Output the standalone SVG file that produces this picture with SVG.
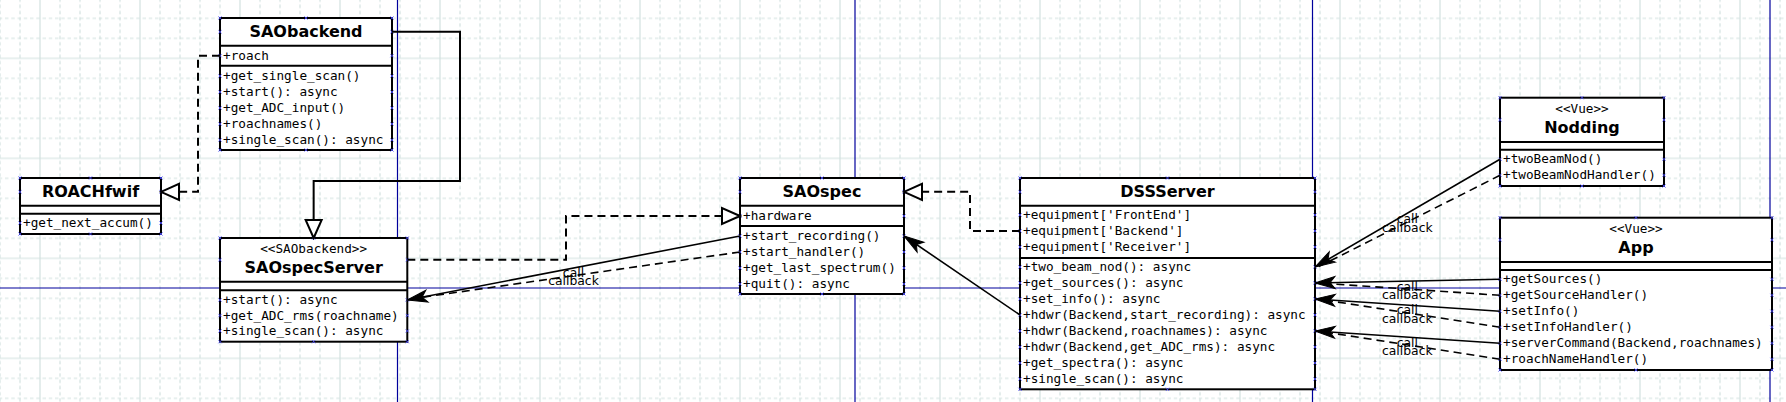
<svg xmlns="http://www.w3.org/2000/svg" width="1786" height="402" viewBox="0 0 1786 402">
<style>
.box{fill:#fff;stroke:#000;stroke-width:2}
.sep{stroke:#000;stroke-width:2}
.title{font-family:"DejaVu Sans",sans-serif;font-weight:bold;font-size:16px;text-anchor:middle;fill:#000}
.stereo{font-family:"DejaVu Sans Mono",monospace;font-size:12.7px;text-anchor:middle;fill:#000}
.mem{font-family:"DejaVu Sans Mono",monospace;font-size:12.7px;fill:#000}
.lbl{font-family:"DejaVu Sans",sans-serif;font-size:12.4px;text-anchor:middle;fill:#000}
.cps{fill:none;stroke:none;marker-start:url(#cp);marker-mid:url(#cp);marker-end:url(#cp)}
.real{fill:none;stroke:#000;stroke-width:2;stroke-dasharray:8 5;marker-end:url(#hollow)}
.gen{fill:none;stroke:#000;stroke-width:2;marker-end:url(#hollow)}
.call{fill:none;stroke:#000;stroke-width:1.6;marker-end:url(#filled)}
.cb{fill:none;stroke:#000;stroke-width:1.6;stroke-dasharray:8 5}
.page{stroke:#00009c;stroke-width:1.2}
</style>
<defs>
<pattern id="grid" patternUnits="userSpaceOnUse" x="30" y="48.33" width="100" height="100">
<path d="M10 0V100M0 10H100" stroke="#d2e1df" stroke-width="1.2" fill="none"/>
<path d="M30 0V100M50 0V100M70 0V100M90 0V100M0 30H100M0 50H100M0 70H100M0 90H100" stroke="#d2e1df" stroke-width="1.2" stroke-dasharray="3.5 2.75" fill="none"/>
</pattern>
<marker id="cp" markerUnits="userSpaceOnUse" viewBox="-3 -3 6 6" markerWidth="6" markerHeight="6" refX="0" refY="0" orient="0">
<path d="M-1.6,-1.6L1.6,1.6M-1.6,1.6L1.6,-1.6" stroke="#4848ff" stroke-width="0.8" fill="none"/>
</marker>
<marker id="hollow" markerUnits="userSpaceOnUse" viewBox="-22 -11 24 22" markerWidth="24" markerHeight="22" refX="0" refY="0" orient="auto">
<path d="M0,0L-18,-8L-18,8Z" fill="#fff" stroke="#000" stroke-width="2"/>
</marker>
<marker id="filled" markerUnits="userSpaceOnUse" viewBox="-22 -8 24 16" markerWidth="24" markerHeight="16" refX="0" refY="0" orient="auto">
<path d="M0,0L-20,-6L-15,0L-20,6Z" fill="#000" stroke="#000" stroke-width="1"/>
</marker>
</defs>
<rect x="0" y="0" width="1786" height="402" fill="#fff"/>
<rect x="0" y="0" width="1786" height="402" fill="url(#grid)"/>
<g id="page-breaks">
<line class="page" x1="397.5" y1="0" x2="397.5" y2="402"/>
<line class="page" x1="855" y1="0" x2="855" y2="402"/>
<line class="page" x1="1312.5" y1="0" x2="1312.5" y2="402"/>
<line class="page" x1="1770" y1="0" x2="1770" y2="402"/>
<line class="page" x1="0" y1="288" x2="1786" y2="288"/>
</g>

<g id="SAObackend">
<rect class="box" x="220" y="18" width="172" height="132"/>
<line class="sep" x1="220" y1="45.7" x2="392" y2="45.7"/>
<line class="sep" x1="220" y1="65.7" x2="392" y2="65.7"/>
<text class="title" x="306" y="37">SAObackend</text>
<text class="mem" x="223" y="59.5">+roach</text>
<text class="mem" x="223" y="80">+get_single_scan()</text>
<text class="mem" x="223" y="96">+start(): async</text>
<text class="mem" x="223" y="112">+get_ADC_input()</text>
<text class="mem" x="223" y="128">+roachnames()</text>
<text class="mem" x="223" y="144">+single_scan(): async</text>
<path class="cps" d="M220 18L220 31.85L220 55.7L220 76L220 92L220 108L220 124L220 140L220 150L306 150L392 150L392 140L392 124L392 108L392 92L392 76L392 55.7L392 31.85L392 18L306 18"/>
</g>

<g id="ROACHfwif">
<rect class="box" x="20" y="178" width="141" height="56"/>
<line class="sep" x1="20" y1="205.7" x2="161" y2="205.7"/>
<line class="sep" x1="20" y1="213.7" x2="161" y2="213.7"/>
<text class="title" x="90.5" y="197">ROACHfwif</text>
<text class="mem" x="23" y="227">+get_next_accum()</text>
<path class="cps" d="M20 178L20 191.85L20 223L20 234L90.5 234L161 234L161 223L161 191.85L161 178L90.5 178"/>
</g>

<g id="SAOspecServer">
<rect class="box" x="220" y="238" width="187.3" height="103.7"/>
<line class="sep" x1="220" y1="281.7" x2="407.3" y2="281.7"/>
<line class="sep" x1="220" y1="290.3" x2="407.3" y2="290.3"/>
<text class="stereo" x="313.65" y="253">&lt;&lt;SAObackend&gt;&gt;</text>
<text class="title" x="313.65" y="273.3">SAOspecServer</text>
<text class="mem" x="223" y="304">+start(): async</text>
<text class="mem" x="223" y="319.5">+get_ADC_rms(roachname)</text>
<text class="mem" x="223" y="335">+single_scan(): async</text>
<path class="cps" d="M220 238L220 259.85L220 300L220 315.5L220 331L220 341.7L313.65 341.7L407.3 341.7L407.3 331L407.3 315.5L407.3 300L407.3 259.85L407.3 238L313.65 238"/>
</g>

<g id="SAOspec">
<rect class="box" x="740" y="178" width="164" height="116"/>
<line class="sep" x1="740" y1="205.7" x2="904" y2="205.7"/>
<line class="sep" x1="740" y1="226" x2="904" y2="226"/>
<text class="title" x="822" y="197">SAOspec</text>
<text class="mem" x="743" y="220">+hardware</text>
<text class="mem" x="743" y="240">+start_recording()</text>
<text class="mem" x="743" y="256">+start_handler()</text>
<text class="mem" x="743" y="272">+get_last_spectrum()</text>
<text class="mem" x="743" y="288">+quit(): async</text>
<path class="cps" d="M740 178L740 191.85L740 216L740 236L740 252L740 268L740 284L740 294L822 294L904 294L904 284L904 268L904 252L904 236L904 216L904 191.85L904 178L822 178"/>
</g>

<g id="DSSServer">
<rect class="box" x="1020" y="178" width="295" height="211.3"/>
<line class="sep" x1="1020" y1="205.7" x2="1315" y2="205.7"/>
<line class="sep" x1="1020" y1="258" x2="1315" y2="258"/>
<text class="title" x="1167.5" y="197">DSSServer</text>
<text class="mem" x="1023" y="219">+equipment['FrontEnd']</text>
<text class="mem" x="1023" y="235">+equipment['Backend']</text>
<text class="mem" x="1023" y="251">+equipment['Receiver']</text>
<text class="mem" x="1023" y="271">+two_beam_nod(): async</text>
<text class="mem" x="1023" y="287">+get_sources(): async</text>
<text class="mem" x="1023" y="303">+set_info(): async</text>
<text class="mem" x="1023" y="319">+hdwr(Backend,start_recording): async</text>
<text class="mem" x="1023" y="335">+hdwr(Backend,roachnames): async</text>
<text class="mem" x="1023" y="351">+hdwr(Backend,get_ADC_rms): async</text>
<text class="mem" x="1023" y="367">+get_spectra(): async</text>
<text class="mem" x="1023" y="383">+single_scan(): async</text>
<path class="cps" d="M1020 178L1020 191.85L1020 215L1020 231L1020 247L1020 267L1020 283L1020 299L1020 315L1020 331L1020 347L1020 363L1020 379L1020 389.3L1167.5 389.3L1315 389.3L1315 379L1315 363L1315 347L1315 331L1315 315L1315 299L1315 283L1315 267L1315 247L1315 231L1315 215L1315 191.85L1315 178L1167.5 178"/>
</g>

<g id="Nodding">
<rect class="box" x="1500" y="97.7" width="164" height="88.3"/>
<line class="sep" x1="1500" y1="142" x2="1664" y2="142"/>
<line class="sep" x1="1500" y1="149.7" x2="1664" y2="149.7"/>
<text class="stereo" x="1582" y="113.3">&lt;&lt;Vue&gt;&gt;</text>
<text class="title" x="1582" y="132.7">Nodding</text>
<text class="mem" x="1503" y="163.3">+twoBeamNod()</text>
<text class="mem" x="1503" y="179.3">+twoBeamNodHandler()</text>
<path class="cps" d="M1500 97.7L1500 119.85L1500 159.3L1500 175.3L1500 186L1582 186L1664 186L1664 175.3L1664 159.3L1664 119.85L1664 97.7L1582 97.7"/>
</g>

<g id="App">
<rect class="box" x="1500" y="217.7" width="272" height="152.3"/>
<line class="sep" x1="1500" y1="262" x2="1772" y2="262"/>
<line class="sep" x1="1500" y1="270" x2="1772" y2="270"/>
<text class="stereo" x="1636" y="233.3">&lt;&lt;Vue&gt;&gt;</text>
<text class="title" x="1636" y="252.7">App</text>
<text class="mem" x="1503" y="283.3">+getSources()</text>
<text class="mem" x="1503" y="299.3">+getSourceHandler()</text>
<text class="mem" x="1503" y="315.3">+setInfo()</text>
<text class="mem" x="1503" y="331.3">+setInfoHandler()</text>
<text class="mem" x="1503" y="347.3">+serverCommand(Backend,roachnames)</text>
<text class="mem" x="1503" y="363.3">+roachNameHandler()</text>
<path class="cps" d="M1500 217.7L1500 239.85L1500 279.3L1500 295.3L1500 311.3L1500 327.3L1500 343.3L1500 359.3L1500 370L1636 370L1772 370L1772 359.3L1772 343.3L1772 327.3L1772 311.3L1772 295.3L1772 279.3L1772 239.85L1772 217.7L1636 217.7"/>
</g>

<g id="connectors">
<path class="real" d="M220 55.7H198V191.85H161"/>
<path class="gen" d="M392 31.85H460V181H313.65V238"/>
<path class="real" d="M407.3 259.85H566V216H740"/>
<path class="real" d="M1020 231H970V191.85H904"/>
<path class="call" d="M740 236L407.3 300"/>
<path class="cb" d="M740 252L410 299"/>
<text class="lbl" x="573.5" y="276.7">call</text>
<text class="lbl" x="573.5" y="285.3">callback</text>
<path class="call" d="M1020 315L904 236"/>
<path class="call" d="M1500 159.3L1315 267"/>
<path class="cb" d="M1500 175.3L1318 267"/>
<text class="lbl" x="1407.3" y="223.3">call</text>
<text class="lbl" x="1407.3" y="231.7">callback</text>
<path class="call" d="M1500 279.3L1315 283"/>
<path class="cb" d="M1500 295.3L1318 283"/>
<text class="lbl" x="1407.3" y="290.7">call</text>
<text class="lbl" x="1407.3" y="299.3">callback</text>
<path class="call" d="M1500 311.3L1315 299"/>
<path class="cb" d="M1500 327.3L1318 299"/>
<text class="lbl" x="1407.3" y="314">call</text>
<text class="lbl" x="1407.3" y="322.7">callback</text>
<path class="call" d="M1500 343.3L1315 331"/>
<path class="cb" d="M1500 359.3L1318 331"/>
<text class="lbl" x="1407.3" y="346.7">call</text>
<text class="lbl" x="1407.3" y="355.3">callback</text>
</g>
</svg>
